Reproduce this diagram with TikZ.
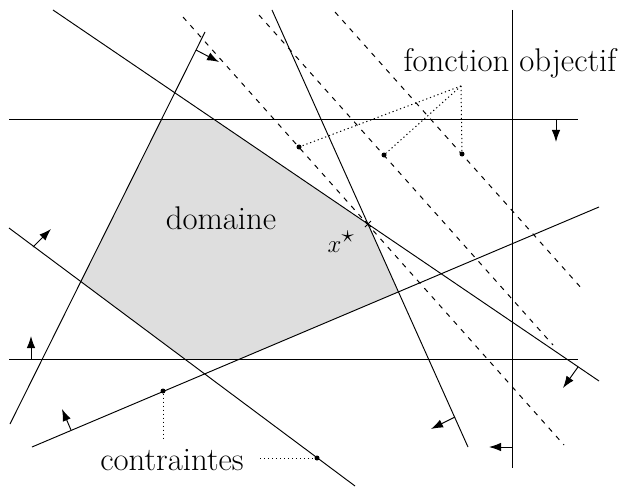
\documentclass[tikz,border=0pt]{standalone}
\usetikzlibrary{arrows.meta,calc}
\begin{document}
\begin{tikzpicture}[x=1pt,y=-1pt,
  cline/.style={line width=0.95pt},
  objline/.style={line width=1pt, dash pattern=on 5pt off 6pt},
  lead/.style={line width=1pt, dash pattern=on 1.2pt off 2.8pt},
  dir/.style={line width=0.95pt, -{Latex[length=12pt,width=8.5pt]}},
  dot/.style={circle, fill, inner sep=0pt, minimum size=5pt},
  lbl/.style={font=\fontsize{32.8}{39}\selectfont, inner sep=0pt, anchor=base}]
\useasboundingbox (0,0) rectangle (622,487);
% constraint lines end points
\coordinate (h1a) at (9,119);   \coordinate (h1b) at (578,119);
\coordinate (h2a) at (9,359);   \coordinate (h2b) at (578,359);
\coordinate (va)  at (512,10);  \coordinate (vb)  at (512,468);
\coordinate (l4a) at (10,424);  \coordinate (l4b) at (205,32);
\coordinate (l5a) at (53,10);   \coordinate (l5b) at (599,381);
\coordinate (l6a) at (9,228);   \coordinate (l6b) at (355,486);
\coordinate (l7a) at (32,447);  \coordinate (l7b) at (599,207);
\coordinate (l8a) at (272,10);  \coordinate (l8b) at (468,447);
% objective lines
\coordinate (d1a) at (183,17);  \coordinate (d1b) at (564,445);
\coordinate (d2a) at (259,15);  \coordinate (d2b) at (553,345);
\coordinate (d3a) at (335,12);  \coordinate (d3b) at (583,290);
% domain vertices
\coordinate (p1) at (intersection of l4a--l4b and h1a--h1b);
\coordinate (p2) at (intersection of h1a--h1b and l5a--l5b);
\coordinate (xs) at (intersection of l5a--l5b and l8a--l8b);
\coordinate (p4) at (intersection of l8a--l8b and l7a--l7b);
\coordinate (p5) at (intersection of l7a--l7b and h2a--h2b);
\coordinate (p6) at (intersection of h2a--h2b and l6a--l6b);
\coordinate (p7) at (intersection of l6a--l6b and l4a--l4b);
\fill[black!13] (p1) -- (p2) -- (xs) -- (p4) -- (p5) -- (p6) -- (p7) -- cycle;
% objective lines
\draw[objline] (d1a) -- (d1b);
\draw[objline] (d2a) -- (d2b);
\draw[objline] (d3a) -- (d3b);
% constraint lines
\draw[cline] (h1a) -- (h1b);
\draw[cline] (h2a) -- (h2b);
\draw[cline] (va) -- (vb);
\draw[cline] (l4a) -- (l4b);
\draw[cline] (l5a) -- (l5b);
\draw[cline] (l6a) -- (l6b);
\draw[cline] (l7a) -- (l7b);
\draw[cline] (l8a) -- (l8b);
% direction arrows
\coordinate (a1s) at (556,119); \coordinate (a1e) at (556,142);
\coordinate (a2s) at (31,359);  \coordinate (a2e) at (31,336);
\coordinate (a3s) at (512,447); \coordinate (a3e) at (489,447);
\coordinate (a4s) at (196,50);  \coordinate (a4e) at (219,62);
\coordinate (a5s) at (578,367); \coordinate (a5e) at (563,388);
\coordinate (a6s) at (33,247);  \coordinate (a6e) at (51,229);
\coordinate (a7s) at (71,430);  \coordinate (a7e) at (62,409);
\coordinate (a8s) at (455,417); \coordinate (a8e) at (431,429);
\foreach \i in {1,...,8} \draw[dir] (a\i s) -- (a\i e);
% optimum
\draw[line width=1pt] ($(xs)+(-3,-3)$) -- ($(xs)+(3,3)$) ($(xs)+(-3,3)$) -- ($(xs)+(3,-3)$);
\node[lbl] (xlab) at (341,252) {$x^\star$};
\node[lbl] (dom) at (221,229) {domaine};
% objective function label
\node[lbl] (fo) at (510,72) {fonction objectif};
\coordinate (foc) at (461,86);
\node[dot] (o1) at (299,147) {};
\node[dot] (o2) at (384,155) {};
\node[dot] (o3) at (462,154) {};
\draw[lead] (foc) -- (o1);
\draw[lead] (foc) -- (o2);
\draw[lead] (foc) -- (o3);
% constraints label
\node[lbl] (ct) at (172,470) {contraintes};
\node[dot] (c1) at (163,391) {};
\node[dot] (c2) at (317,458) {};
\coordinate (c1e) at (163,440);
\coordinate (c2e) at (260,458);
\draw[lead] (c1) -- (c1e);
\draw[lead] (c2e) -- (c2);
\end{tikzpicture}
\end{document}
